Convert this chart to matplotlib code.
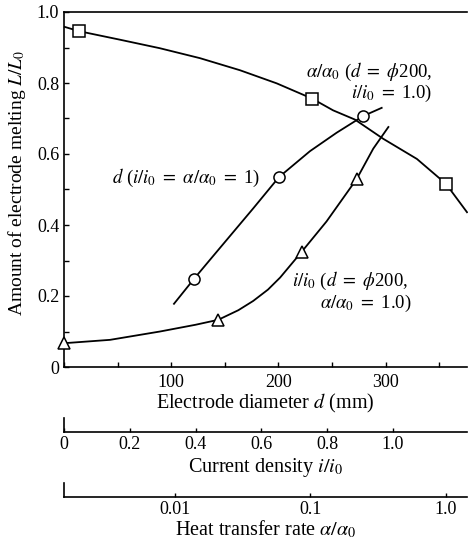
import matplotlib
matplotlib.use("Agg")
import matplotlib.pyplot as plt
from matplotlib.ticker import MultipleLocator, FixedLocator

plt.rcParams['font.family'] = ['Liberation Serif', 'DejaVu Serif']
plt.rcParams['mathtext.fontset'] = 'stix'

# === données ===
# courbe alpha/alpha0 (d = 200, i/i0 = 1.0) -> échelle log
alpha_curve = [0.00154, 0.00196, 0.00393, 0.00774, 0.0153, 0.0302, 0.0564, 0.103,
               0.147, 0.213, 0.344, 0.611, 1.0, 1.43]
L_alpha_curve = [0.958, 0.946, 0.922, 0.898, 0.870, 0.836, 0.799, 0.756,
                 0.723, 0.697, 0.643, 0.586, 0.516, 0.436]
alpha_pts = [0.00196, 0.103, 1.0]
L_alpha_pts = [0.946, 0.756, 0.516]

# courbe d (i/i0 = alpha/alpha0 = 1)
d_curve = [102.6, 121.5, 136.2, 151.8, 176.6, 200.6, 229.5, 254.4, 279.2, 296.4]
L_d_curve = [0.178, 0.249, 0.302, 0.358, 0.447, 0.535, 0.608, 0.660, 0.707, 0.730]
d_pts = [121.5, 200.6, 279.2]
L_d_pts = [0.249, 0.535, 0.707]

# courbe i/i0 (d = 200, alpha/alpha0 = 1.0)
i_curve = [0.0, 0.140, 0.292, 0.400, 0.469, 0.530, 0.575, 0.620, 0.657, 0.722,
           0.798, 0.890, 0.940, 0.986]
L_i_curve = [0.067, 0.0765, 0.100, 0.119, 0.133, 0.160, 0.186, 0.218, 0.252, 0.324,
             0.410, 0.530, 0.615, 0.676]
i_pts = [0.0, 0.469, 0.722, 0.890]
L_i_pts = [0.067, 0.133, 0.324, 0.530]

d_lim = (0, 376)
i_lim = (0, 1.225)
a_lim = (0.00152, 1.43)

W, H = 468, 542
fig = plt.figure(figsize=(W / 100, H / 100), dpi=100)
fs_lab = 14.5
fs_ann = 13.5
fs_tick = 13

x0, x1 = 64 / W, 467 / W
ax = fig.add_axes([x0, 1 - 367 / H, x1 - x0, (367 - 12) / H])
ax.set_xlim(*d_lim)
ax.set_ylim(0, 1.0)
ax.spines['right'].set_visible(False)
for s in ax.spines.values():
    s.set_linewidth(1.2)
ax.xaxis.set_major_locator(FixedLocator([100, 200, 300]))
ax.xaxis.set_minor_locator(MultipleLocator(50))
ax.yaxis.set_minor_locator(MultipleLocator(0.1))
ax.set_yticks([0, 0.2, 0.4, 0.6, 0.8, 1.0])
ax.set_yticklabels(["0", "0.2", "0.4", "0.6", "0.8", "1.0"])
ax.tick_params(which='both', direction='in', length=3.5, width=1, labelsize=fs_tick,
               top=False, right=False)
ax.tick_params(axis='x', pad=5)
ax.set_xlabel("Electrode diameter $d$ (mm)", fontsize=fs_lab, labelpad=1)
ax.set_ylabel("Amount of electrode melting $L/L_0$", fontsize=14)
ax.yaxis.set_label_coords(-0.09, 0.52)

# d
ax.plot(d_curve, L_d_curve, color='black', lw=1.3)
ax.plot(d_pts, L_d_pts, 'o', ms=8, mfc='white', mec='black', mew=1.1, clip_on=False)

# i/i0
ax_i = ax.twiny()
ax_i.set_xlim(*i_lim)
ax_i.axis('off')
ax_i.plot(i_curve, L_i_curve, color='black', lw=1.3, clip_on=False)
ax_i.plot(i_pts, L_i_pts, '^', ms=9, mfc='white', mec='black', mew=1.1, clip_on=False)

# alpha/alpha0
ax_a = ax.twiny()
ax_a.set_xscale('log')
ax_a.set_xlim(*a_lim)
ax_a.axis('off')
ax_a.plot(alpha_curve, L_alpha_curve, color='black', lw=1.3, clip_on=False)
ax_a.plot(alpha_pts, L_alpha_pts, 's', ms=9, mfc='white', mec='black', mew=1.1, clip_on=False)

# annotations
kw = dict(fontsize=fs_ann, transform=fig.transFigure)
fig.text(432 / W, 1 - 72 / H, r"$\alpha/\alpha_0$ ($d\ =\ \phi$200,", ha='right', va='center', **kw)
fig.text(432 / W, 1 - 93 / H, r"$i/i_0\ =\ $1.0)", ha='right', va='center', **kw)
fig.text(112 / W, 1 - 178 / H, r"$d$ ($i/i_0\ =\ \alpha/\alpha_0\ =\ $1)", ha='left', va='center', **kw)
fig.text(292 / W, 1 - 281 / H, r"$i/i_0$ ($d\ =\ \phi$200,", ha='left', va='center', **kw)
fig.text(411 / W, 1 - 303 / H, r"$\alpha/\alpha_0\ =\ $1.0)", ha='right', va='center', **kw)

# échelles secondaires
def scale_axis(y_line, lim, log=False):
    a = fig.add_axes([x0, 1 - y_line / H, x1 - x0, 14 / H])
    if log:
        a.set_xscale('log')
    a.set_xlim(*lim)
    a.set_ylim(0, 1)
    a.patch.set_visible(False)
    a.spines['top'].set_visible(False)
    a.spines['right'].set_visible(False)
    a.spines['bottom'].set_linewidth(1.2)
    a.spines['left'].set_linewidth(1.2)
    a.set_yticks([])
    a.tick_params(axis='x', which='both', direction='in', length=3, width=1,
                  labelsize=fs_tick, pad=3)
    return a

ax_c = scale_axis(432, i_lim)
ax_c.set_xticks([0, 0.2, 0.4, 0.6, 0.8, 1.0])
ax_c.set_xticklabels(["0", "0.2", "0.4", "0.6", "0.8", "1.0"])
ax_c.set_xlabel("Current density $i/i_0$", fontsize=fs_lab, labelpad=2)

ax_h = scale_axis(497, a_lim, log=True)
ax_h.set_xticks([0.01, 0.1, 1.0])
ax_h.set_xticklabels(["0.01", "0.1", "1.0"])
ax_h.xaxis.set_minor_locator(FixedLocator([]))
ax_h.set_xlabel(r"Heat transfer rate $\alpha/\alpha_0$", fontsize=fs_lab, labelpad=0)

fig.savefig("out.png", dpi=100)
